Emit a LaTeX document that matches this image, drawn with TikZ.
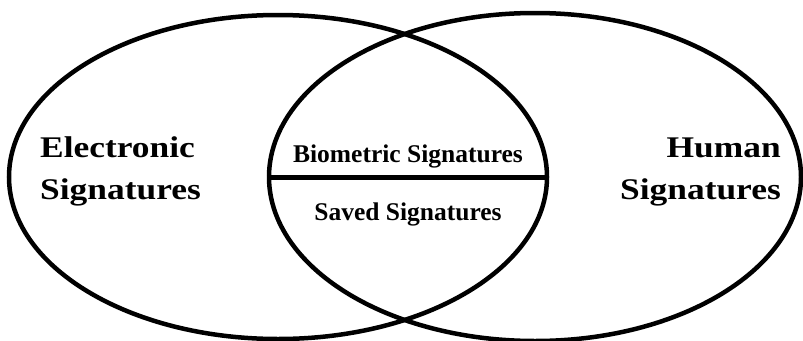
\documentclass[tikz,border=0pt]{standalone}
\usepackage{fontspec}
\setmainfont{Liberation Serif}
\newfontfamily\widefont[FakeStretch=1.18]{Liberation Serif}
\usetikzlibrary{positioning,shapes.geometric}
\tikzset{
  setring/.style={draw=black, ellipse, line width=4.5pt, inner sep=0pt},
  biglabel/.style={font=\widefont\bfseries\fontsize{30}{42}\selectfont, inner sep=0pt},
  smalllabel/.style={font=\bfseries\fontsize{25.5}{30}\selectfont, inner sep=0pt},
  divider/.style={line width=5pt, black},
}
\begin{document}
\begin{tikzpicture}[x=1pt,y=-1pt]
  \useasboundingbox (0,0) rectangle (803,340);

  % ---- The two sets ----
  \node[setring, minimum width=538pt, minimum height=324pt] (elec)  at (278,177) {};
  \node[setring, minimum width=532pt, minimum height=328pt] (human) at (535,177) {};

  % ---- Split of the overlap ----
  \draw[divider] (human.west) -- (elec.east);

  % ---- Set labels (base = last line) ----
  \node[biglabel, align=left, anchor=base west] (eleclab) at (40,199)
        {Electronic\\Signatures};
  \node[biglabel, align=right, anchor=base east] (humanlab) at (781,199)
        {Human\\Signatures};

  % ---- Overlap labels ----
  \node[smalllabel, anchor=base] (bio)   at (408,162) {Biometric Signatures};
  \node[smalllabel, anchor=base] (saved) at (408,220) {Saved Signatures};

\end{tikzpicture}
\end{document}
